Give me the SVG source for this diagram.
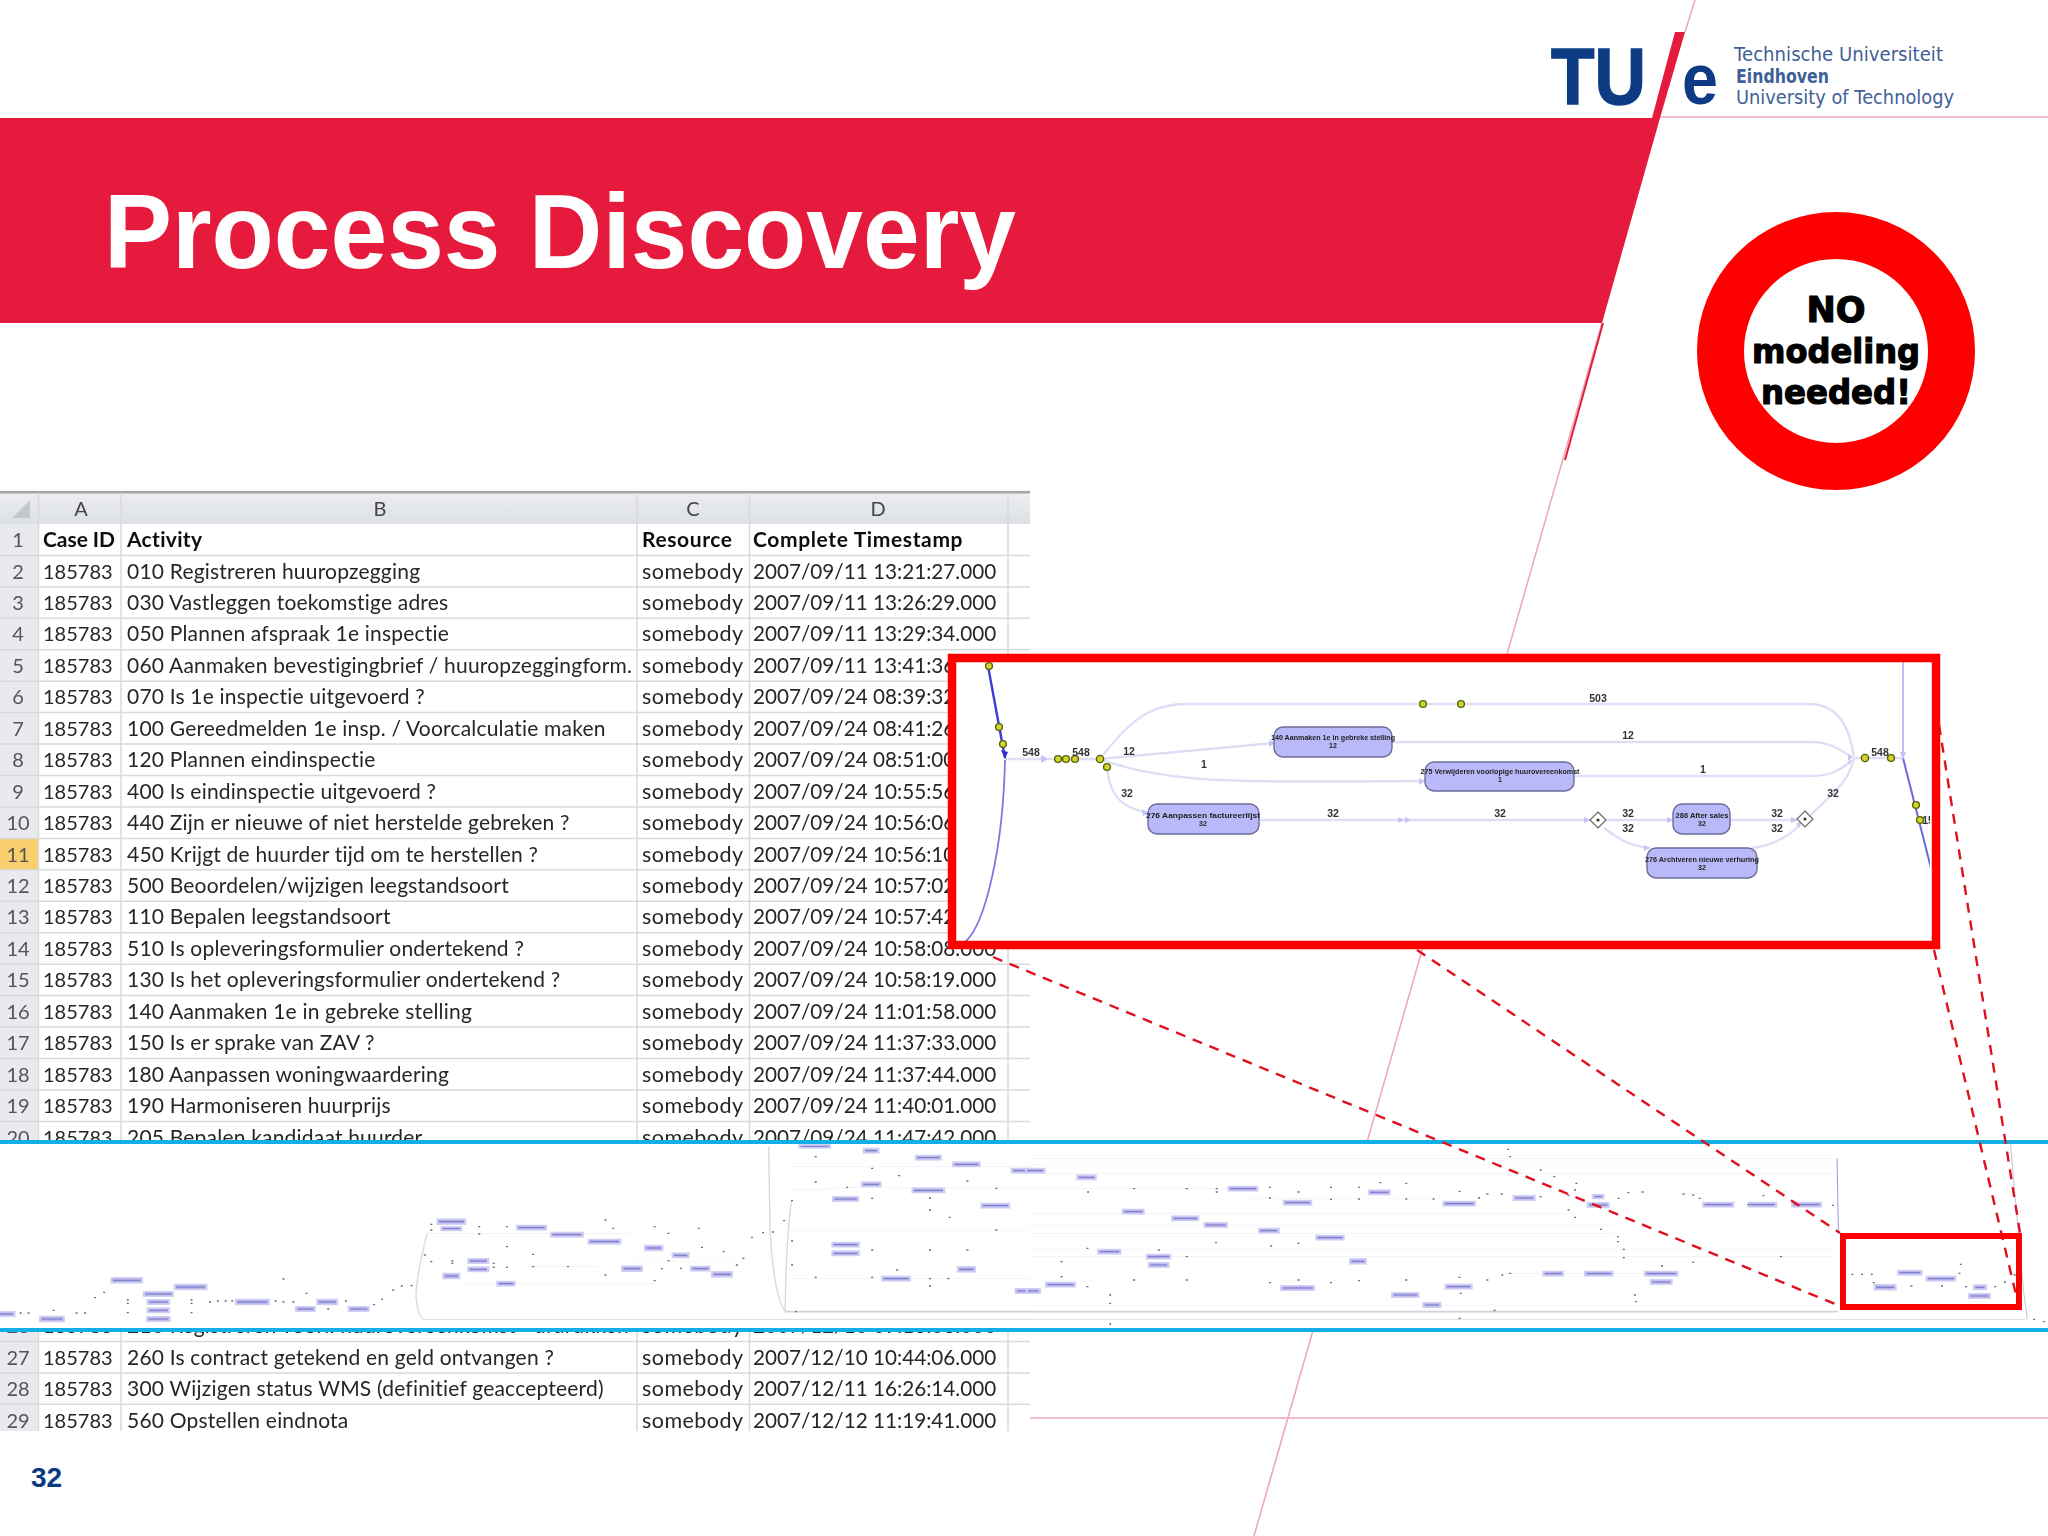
<svg xmlns="http://www.w3.org/2000/svg" width="2048" height="1536" viewBox="0 0 2048 1536">
<style>
text{font-family:"Liberation Sans",Arial,sans-serif}
.c{font-family:Lato,"Open Sans",sans-serif;font-size:20px;fill:#262626}
.ch{font-family:Lato,"Open Sans",sans-serif;font-size:21px;fill:#111;font-weight:700}
.rn{font-family:Lato,"Open Sans",sans-serif;font-size:20px;fill:#555;text-anchor:middle}
.col{font-family:Lato,"Open Sans",sans-serif;font-size:20px;fill:#444;text-anchor:middle}
text.c[x="127"]{font-size:21px;letter-spacing:.2px}
text.c[x="642"]{font-size:21.5px;letter-spacing:.45px}
text.c[x="753"]{font-size:20.7px}
text.ch[x="127"]{letter-spacing:.3px}
text.ch[x="642"]{letter-spacing:.6px}
text.ch[x="753"]{letter-spacing:.63px}
.pink{stroke:#f0a8ba;stroke-width:1.6;fill:none}
.dash{stroke:#e0101e;stroke-width:2.4;stroke-dasharray:10 8;fill:none}
.edge{stroke:#dedef7;stroke-width:2.4;fill:none}
.nd{fill:#b9b9fa;stroke:#6b6b98;stroke-width:1.4}
.nt{font-size:7px;font-weight:700;fill:#222;text-anchor:middle}
.el{font-size:10.5px;font-weight:700;fill:#333;text-anchor:middle}
.y{fill:#d4d42a;stroke:#56640f;stroke-width:1.4}
.ah{fill:#c4c4f4}
.mn{fill:url(#mini);stroke:#cfcdf3;stroke-width:3.5}
.lg{font-family:"DejaVu Sans",sans-serif;font-size:19px;fill:#3f5f96}
</style>
<defs>
<linearGradient id="mini" x1="0" y1="0" x2="0" y2="1"><stop offset="0" stop-color="#d0cef4"/><stop offset=".3" stop-color="#b3b1ea"/><stop offset=".5" stop-color="#7b78c6"/><stop offset=".7" stop-color="#b3b1ea"/><stop offset="1" stop-color="#d0cef4"/></linearGradient>
<linearGradient id="hd" x1="0" y1="0" x2="0" y2="1"><stop offset="0" stop-color="#eceef1"/><stop offset="1" stop-color="#dcdfe4"/></linearGradient>
<filter id="b1" x="-2%" y="-2%" width="104%" height="104%"><feGaussianBlur stdDeviation="0.35"/></filter>
<filter id="b2" x="-2%" y="-2%" width="104%" height="104%"><feGaussianBlur stdDeviation="0.6"/></filter>
<clipPath id="inset"><rect x="956" y="662" width="974" height="279"/></clipPath>
</defs>
<rect width="2048" height="1536" fill="#fff"/>

<g id="slide-lines">
<path class="pink" d="M2048 117H1660M1685 32L1695 0M1602 323L1254 1536M1030 1418H2048"/>
<path d="M1602 323L1564 460L1566 460L1604 323Z" fill="#e01a3c"/>
</g>
<g id="banner">
<path d="M0 118H1652L1675 32H1685L1660 118L1602 323H0Z" fill="#e61a3c"/>
<text x="104" y="268" font-size="106" font-weight="700" fill="#fff" textLength="912" lengthAdjust="spacingAndGlyphs">Process Discovery</text>
</g>
<g id="logo">
<text x="1551" y="104" font-size="80" font-weight="700" fill="#0d3c84" textLength="95" lengthAdjust="spacingAndGlyphs" stroke="#0d3c84" stroke-width="1.5">TU</text>
<text x="1682" y="104" font-size="72" font-weight="700" fill="#0d3c84" textLength="36" lengthAdjust="spacingAndGlyphs">e</text>
<text class="lg" x="1734" y="61" textLength="209" lengthAdjust="spacingAndGlyphs">Technische Universiteit</text>
<text class="lg" x="1736" y="83" font-weight="700" fill="#1f4a8a" textLength="93" lengthAdjust="spacingAndGlyphs">Eindhoven</text>
<text class="lg" x="1736" y="104" textLength="218" lengthAdjust="spacingAndGlyphs">University of Technology</text>
</g>
<g id="no-modeling">
<circle cx="1836" cy="351" r="115.5" fill="#fff" stroke="#ff0000" stroke-width="47"/>
<g text-anchor="middle" font-weight="700" fill="#000" stroke="#000" stroke-width="1.2">
<text x="1836" y="322" font-size="35" style="font-family:'DejaVu Sans',sans-serif">NO</text>
<text x="1836" y="363" font-size="34" textLength="168" lengthAdjust="spacingAndGlyphs" style="font-family:'DejaVu Sans',sans-serif">modeling</text>
<text x="1836" y="404" font-size="34" textLength="150" lengthAdjust="spacingAndGlyphs" style="font-family:'DejaVu Sans',sans-serif">needed!</text>
</g>
</g>

<g id="table" filter="url(#b1)">
<rect x="0" y="493" width="1030" height="31" fill="url(#hd)"/>
<rect x="0" y="491" width="1030" height="2.5" fill="#a4a6a8"/>
<rect x="0" y="524" width="38.5" height="910" fill="#e8eaee"/>
<rect x="0" y="838.4" width="38.5" height="31.4" fill="#f8cf6c"/>
<path d="M30 500V518H12Z" fill="#c4c7cb"/>
<path fill="none" stroke="#d9d9d9" stroke-width="1.5" d="M0 555.4H1030M0 586.9H1030M0 618.3H1030M0 649.8H1030M0 681.2H1030M0 712.6H1030M0 744.1H1030M0 775.5H1030M0 807H1030M0 838.4H1030M0 869.8H1030M0 901.3H1030M0 932.7H1030M0 964.2H1030M0 995.6H1030M0 1027H1030M0 1058.5H1030M0 1089.9H1030M0 1121.4H1030M0 1341.4H1030M0 1372.9H1030M0 1404.3H1030M38.5 493V1431M121 493V1431M637 493V1431M749.5 493V1431M1008 493V1431"/>
<text class="col" x="81" y="516">A</text><text class="col" x="380" y="516">B</text><text class="col" x="693" y="516">C</text><text class="col" x="878" y="516">D</text>
<g transform="translate(0 -.8)">
<text class="rn" x="18" y="548">1</text><text class="ch" x="43" y="548" textLength="72">Case ID</text><text class="ch" x="127" y="548">Activity</text><text class="ch" x="642" y="548">Resource</text><text class="ch" x="753" y="548">Complete Timestamp</text>
<text class="rn" x="18" y="579.4">2</text><text class="c" x="43" y="579.4">185783</text><text class="c" x="127" y="579.4">010 Registreren huuropzegging</text><text class="c" x="642" y="579.4">somebody</text><text class="c" x="753" y="579.4">2007/09/11 13:21:27.000</text>
<text class="rn" x="18" y="610.9">3</text><text class="c" x="43" y="610.9">185783</text><text class="c" x="127" y="610.9">030 Vastleggen toekomstige adres</text><text class="c" x="642" y="610.9">somebody</text><text class="c" x="753" y="610.9">2007/09/11 13:26:29.000</text>
<text class="rn" x="18" y="642.3">4</text><text class="c" x="43" y="642.3">185783</text><text class="c" x="127" y="642.3">050 Plannen afspraak 1e inspectie</text><text class="c" x="642" y="642.3">somebody</text><text class="c" x="753" y="642.3">2007/09/11 13:29:34.000</text>
<text class="rn" x="18" y="673.8">5</text><text class="c" x="43" y="673.8">185783</text><text class="c" x="127" y="673.8">060 Aanmaken bevestigingbrief / huuropzeggingform.</text><text class="c" x="642" y="673.8">somebody</text><text class="c" x="753" y="673.8">2007/09/11 13:41:36</text>
<text class="rn" x="18" y="705.2">6</text><text class="c" x="43" y="705.2">185783</text><text class="c" x="127" y="705.2">070 Is 1e inspectie uitgevoerd ?</text><text class="c" x="642" y="705.2">somebody</text><text class="c" x="753" y="705.2">2007/09/24 08:39:32</text>
<text class="rn" x="18" y="736.6">7</text><text class="c" x="43" y="736.6">185783</text><text class="c" x="127" y="736.6">100 Gereedmelden 1e insp. / Voorcalculatie maken</text><text class="c" x="642" y="736.6">somebody</text><text class="c" x="753" y="736.6">2007/09/24 08:41:26</text>
<text class="rn" x="18" y="768.1">8</text><text class="c" x="43" y="768.1">185783</text><text class="c" x="127" y="768.1">120 Plannen eindinspectie</text><text class="c" x="642" y="768.1">somebody</text><text class="c" x="753" y="768.1">2007/09/24 08:51:00</text>
<text class="rn" x="18" y="799.5">9</text><text class="c" x="43" y="799.5">185783</text><text class="c" x="127" y="799.5">400 Is eindinspectie uitgevoerd ?</text><text class="c" x="642" y="799.5">somebody</text><text class="c" x="753" y="799.5">2007/09/24 10:55:56</text>
<text class="rn" x="18" y="831">10</text><text class="c" x="43" y="831">185783</text><text class="c" x="127" y="831">440 Zijn er nieuwe of niet herstelde gebreken ?</text><text class="c" x="642" y="831">somebody</text><text class="c" x="753" y="831">2007/09/24 10:56:06</text>
<text class="rn" x="18" y="862.4">11</text><text class="c" x="43" y="862.4">185783</text><text class="c" x="127" y="862.4">450 Krijgt de huurder tijd om te herstellen ?</text><text class="c" x="642" y="862.4">somebody</text><text class="c" x="753" y="862.4">2007/09/24 10:56:10</text>
<text class="rn" x="18" y="893.8">12</text><text class="c" x="43" y="893.8">185783</text><text class="c" x="127" y="893.8">500 Beoordelen/wijzigen leegstandsoort</text><text class="c" x="642" y="893.8">somebody</text><text class="c" x="753" y="893.8">2007/09/24 10:57:02</text>
<text class="rn" x="18" y="925.3">13</text><text class="c" x="43" y="925.3">185783</text><text class="c" x="127" y="925.3">110 Bepalen leegstandsoort</text><text class="c" x="642" y="925.3">somebody</text><text class="c" x="753" y="925.3">2007/09/24 10:57:42</text>
<text class="rn" x="18" y="956.7">14</text><text class="c" x="43" y="956.7">185783</text><text class="c" x="127" y="956.7">510 Is opleveringsformulier ondertekend ?</text><text class="c" x="642" y="956.7">somebody</text><text class="c" x="753" y="956.7">2007/09/24 10:58:08.000</text>
<text class="rn" x="18" y="988.2">15</text><text class="c" x="43" y="988.2">185783</text><text class="c" x="127" y="988.2">130 Is het opleveringsformulier ondertekend ?</text><text class="c" x="642" y="988.2">somebody</text><text class="c" x="753" y="988.2">2007/09/24 10:58:19.000</text>
<text class="rn" x="18" y="1019.6">16</text><text class="c" x="43" y="1019.6">185783</text><text class="c" x="127" y="1019.6">140 Aanmaken 1e in gebreke stelling</text><text class="c" x="642" y="1019.6">somebody</text><text class="c" x="753" y="1019.6">2007/09/24 11:01:58.000</text>
<text class="rn" x="18" y="1051">17</text><text class="c" x="43" y="1051">185783</text><text class="c" x="127" y="1051">150 Is er sprake van ZAV ?</text><text class="c" x="642" y="1051">somebody</text><text class="c" x="753" y="1051">2007/09/24 11:37:33.000</text>
<text class="rn" x="18" y="1082.5">18</text><text class="c" x="43" y="1082.5">185783</text><text class="c" x="127" y="1082.5">180 Aanpassen woningwaardering</text><text class="c" x="642" y="1082.5">somebody</text><text class="c" x="753" y="1082.5">2007/09/24 11:37:44.000</text>
<text class="rn" x="18" y="1113.9">19</text><text class="c" x="43" y="1113.9">185783</text><text class="c" x="127" y="1113.9">190 Harmoniseren huurprijs</text><text class="c" x="642" y="1113.9">somebody</text><text class="c" x="753" y="1113.9">2007/09/24 11:40:01.000</text>
<text class="rn" x="18" y="1145.4">20</text><text class="c" x="43" y="1145.4">185783</text><text class="c" x="127" y="1145.4">205 Bepalen kandidaat huurder</text><text class="c" x="642" y="1145.4">somebody</text><text class="c" x="753" y="1145.4">2007/09/24 11:47:42.000</text>
<text class="rn" x="18" y="1334">26</text><text class="c" x="43" y="1334">185783</text><text class="c" x="127" y="1334">210 Registreren voorl. huurovereenkomst - afdrukken</text><text class="c" x="642" y="1334">somebody</text><text class="c" x="753" y="1334">2007/12/10 09:16:06.000</text>
<text class="rn" x="18" y="1365.8">27</text><text class="c" x="43" y="1365.8">185783</text><text class="c" x="127" y="1365.8">260 Is contract getekend en geld ontvangen ?</text><text class="c" x="642" y="1365.8">somebody</text><text class="c" x="753" y="1365.8">2007/12/10 10:44:06.000</text>
<text class="rn" x="18" y="1397.3">28</text><text class="c" x="43" y="1397.3">185783</text><text class="c" x="127" y="1397.3">300 Wijzigen status WMS (definitief geaccepteerd)</text><text class="c" x="642" y="1397.3">somebody</text><text class="c" x="753" y="1397.3">2007/12/11 16:26:14.000</text>
<text class="rn" x="18" y="1428.7">29</text><text class="c" x="43" y="1428.7">185783</text><text class="c" x="127" y="1428.7">560 Opstellen eindnota</text><text class="c" x="642" y="1428.7">somebody</text><text class="c" x="753" y="1428.7">2007/12/12 11:19:41.000</text>
</g>
</g>
<rect x="0" y="1431" width="1030" height="8" fill="#fff"/>

<g id="process-map">
<rect x="0" y="1144" width="2048" height="186" fill="#fff"/>
<g id="map-left" transform="translate(0 1130) scale(.657 .3333)" filter="url(#b1)">
<path fill="none" stroke="#d8d8e0" stroke-width="2" d="M1170 50L1172 300Q1178 500 1195 545M650 310Q636 420 633 490Q635 560 645 568H1568M1205 212Q1197 300 1195 545"/>
<path fill="none" stroke="#d2d2d6" stroke-width="5" d="M1195 545H1568"/>
<path fill="none" stroke="#f0f0f8" stroke-width="2" d="M1200 110H1568M1200 180Q1240 180 1300 172H1568M1205 445H1568M1205 300H1568M650 310H960M700 460H1000M960 393H1120M800 410H910"/>
<g class="mn-set">
<rect class="mn" x="-2" y="545" width="24" height="14"/><rect class="mn" x="61" y="559" width="36" height="16"/><rect class="mn" x="170" y="443" width="46" height="16"/><rect class="mn" x="219" y="485" width="44" height="14"/><rect class="mn" x="225" y="509" width="32" height="14"/><rect class="mn" x="225" y="534" width="32" height="14"/><rect class="mn" x="224" y="560" width="34" height="14"/><rect class="mn" x="266" y="463" width="48" height="16"/><rect class="mn" x="359" y="508" width="50" height="16"/><rect class="mn" x="451" y="530" width="28" height="14"/><rect class="mn" x="483" y="508" width="30" height="16"/><rect class="mn" x="531" y="530" width="30" height="14"/><rect class="mn" x="666" y="267" width="42" height="16"/><rect class="mn" x="672" y="290" width="30" height="12"/><rect class="mn" x="787" y="286" width="44" height="14"/><rect class="mn" x="839" y="307" width="48" height="14"/><rect class="mn" x="896" y="328" width="48" height="14"/><rect class="mn" x="982" y="346" width="26" height="16"/><rect class="mn" x="1024" y="369" width="24" height="14"/><rect class="mn" x="947" y="408" width="30" height="16"/><rect class="mn" x="1052" y="409" width="28" height="14"/><rect class="mn" x="1084" y="425" width="30" height="16"/><rect class="mn" x="713" y="386" width="30" height="14"/><rect class="mn" x="713" y="411" width="30" height="14"/><rect class="mn" x="675" y="430" width="24" height="16"/><rect class="mn" x="757" y="454" width="26" height="14"/><rect class="mn" x="1217" y="44" width="46" height="10"/><rect class="mn" x="1315" y="55" width="22" height="14"/><rect class="mn" x="1394" y="76" width="38" height="14"/><rect class="mn" x="1451" y="96" width="40" height="14"/><rect class="mn" x="1540" y="115" width="28" height="14"/><rect class="mn" x="1312" y="156" width="28" height="14"/><rect class="mn" x="1389" y="174" width="48" height="14"/><rect class="mn" x="1268" y="200" width="38" height="14"/><rect class="mn" x="1494" y="220" width="42" height="14"/><rect class="mn" x="1267" y="337" width="40" height="14"/><rect class="mn" x="1267" y="363" width="40" height="14"/><rect class="mn" x="1458" y="410" width="26" height="16"/><rect class="mn" x="1343" y="439" width="42" height="14"/><rect class="mn" x="1546" y="476" width="22" height="14"/>
</g>
<path fill="none" stroke="#66667a" stroke-width="4" d="M30 549h3M42 549h3M80 541h3M115 549h3M128 549h3M143 503h3M157 487h3M193 510h3M193 520h3M193 548h3M290 510h3M290 520h3M290 548h3M318 516h3M330 513h3M342 513h3M352 513h3M418 513h3M430 516h3M445 516h3M430 447h3M465 490h3M498 537h3M525 513h3M568 524h3M580 508h3M597 480h3M610 468h3M625 467h3M645 375h3M655 283h3M655 300h3M655 395h3M687 393h3M687 400h3M728 290h3M728 312h3M770 290h3M770 350h3M810 373h3M810 410h3M750 400h3M750 412h3M770 412h3M863 410h3M920 270h3M932 295h3M995 290h3M1016 310h3M1062 295h3M1067 352h3M1100 365h3M1130 385h3M1016 392h3M1006 416h3M920 435h3M995 452h3M1035 415h3M1120 405h3M1143 322h3M1160 308h3M1175 306h3M1192 272h3M1204 212h3M1204 333h3M1204 405h3M1240 156h3M1240 80h3M1288 172h3M1326 115h3M1326 205h3M1367 137h3M1414 204h3M1414 240h3M1444 262h3M1471 153h3M1515 175h3M1515 300h3M1414 360h3M1471 360h3M1326 360h3M1240 442h3M1326 442h3M1364 420h3M1414 446h3M1442 446h3M1414 468h3M1210 545h3"/>
</g>
<g id="map-right" transform="translate(1030 1130) scale(.6493 .3333)" filter="url(#b1)">
<path fill="none" stroke="#d2d2d6" stroke-width="5" d="M0 545H1245"/>
<path fill="none" stroke="#d8d8e0" stroke-width="2" d="M0 568H1535"/>
<path fill="none" stroke="#9a9ae0" stroke-width="1.6" d="M1243 85L1245 310"/>
<path fill="none" stroke="#c4c4e0" stroke-width="1.6" d="M1510 40L1530 480L1536 568"/>
<path fill="none" stroke="#f0f0f8" stroke-width="2" d="M0 85H1240M0 105H1240M0 130H1240M0 176H330M330 204H640M0 250H840M0 285H900M0 310H900M0 360H1240M0 380H1240M0 450H500M0 525H1240M730 430H1000M1000 190H1040"/>
<g>
<rect class="mn" x="-6" y="115" width="28" height="14"/><rect class="mn" x="73" y="135" width="28" height="14"/><rect class="mn" x="306" y="169" width="44" height="14"/><rect class="mn" x="391" y="211" width="42" height="14"/><rect class="mn" x="522" y="180" width="32" height="14"/><rect class="mn" x="143" y="238" width="32" height="14"/><rect class="mn" x="219" y="258" width="40" height="14"/><rect class="mn" x="269" y="278" width="34" height="14"/><rect class="mn" x="353" y="295" width="30" height="14"/><rect class="mn" x="441" y="316" width="42" height="14"/><rect class="mn" x="637" y="214" width="48" height="14"/><rect class="mn" x="745" y="197" width="32" height="14"/><rect class="mn" x="867" y="194" width="16" height="12"/><rect class="mn" x="859" y="218" width="32" height="14"/><rect class="mn" x="1037" y="217" width="46" height="14"/><rect class="mn" x="1107" y="217" width="42" height="14"/><rect class="mn" x="1174" y="217" width="44" height="14"/><rect class="mn" x="105" y="358" width="34" height="14"/><rect class="mn" x="180" y="373" width="36" height="14"/><rect class="mn" x="183" y="398" width="30" height="14"/><rect class="mn" x="493" y="386" width="24" height="16"/><rect class="mn" x="25" y="457" width="44" height="14"/><rect class="mn" x="-5" y="476" width="20" height="14"/><rect class="mn" x="387" y="467" width="50" height="14"/><rect class="mn" x="640" y="463" width="40" height="14"/><rect class="mn" x="558" y="488" width="40" height="14"/><rect class="mn" x="606" y="518" width="26" height="14"/><rect class="mn" x="791" y="424" width="30" height="14"/><rect class="mn" x="855" y="424" width="42" height="14"/><rect class="mn" x="947" y="424" width="50" height="14"/><rect class="mn" x="956" y="449" width="32" height="14"/><rect class="mn" x="1337" y="421" width="36" height="14"/><rect class="mn" x="1381" y="439" width="44" height="14"/><rect class="mn" x="1301" y="464" width="32" height="16"/><rect class="mn" x="1454" y="465" width="18" height="14"/><rect class="mn" x="1446" y="491" width="32" height="14"/>
</g>
<path fill="none" stroke="#66667a" stroke-width="4" d="M735 58h3M738 80h3M785 120h3M806 140h3M88 186h3M159 176h3M240 176h3M286 176h3M286 186h3M368 172h3M368 204h3M412 186h3M462 172h3M462 208h3M505 172h3M505 207h3M538 158h3M578 160h3M578 207h3M620 207h3M660 184h3M690 204h3M703 192h3M725 192h3M785 200h3M828 196h3M840 160h3M838 180h3M850 210h3M905 205h3M920 188h3M942 186h3M1005 192h3M1020 195h3M1030 205h3M1128 197h3M1105 224h3M1235 226h3M828 240h3M838 262h3M878 298h3M904 320h3M904 335h3M913 358h3M913 383h3M1155 380h3M1020 397h3M972 408h3M726 435h3M738 430h3M703 450h3M660 442h3M662 490h3M578 450h3M505 452h3M462 458h3M368 458h3M412 450h3M240 450h3M159 450h3M122 495h3M122 520h3M122 582h3M47 395h3M47 440h3M87 355h3M87 470h3M285 338h3M370 348h3M412 340h3M197 360h3M240 380h3M660 565h3M714 541h3M932 515h3M930 495h3M1265 433h3M1280 433h3M1295 433h3M1298 458h3M1356 468h3M1403 468h3M1432 403h3M1440 470h3M1485 470h3M1500 456h3M1515 435h3M1430 430h3M1545 568h3M1560 575h3"/>
</g>
<rect x="0" y="1140" width="2048" height="4" fill="#12aee6"/>
<rect x="0" y="1328" width="2048" height="4" fill="#12aee6"/>
</g>

<g id="zoom-lines">
<path class="dash" d="M993 957L1835 1304M1417 950L1840 1233M1939 725L2020 1233M1934 950L2018 1303"/>
</g>
<rect id="map-highlight" x="1843" y="1236" width="176" height="71" fill="none" stroke="#ff0000" stroke-width="6"/>

<g id="zoom-inset">
<rect x="952" y="658" width="984" height="287" fill="#fff"/>
<g clip-path="url(#inset)" filter="url(#b2)">
<g id="connectors">
<path class="edge" d="M1005 759H1100M1100 759C1130 720 1150 704 1187 704H1809C1840 704 1850 730 1854 757M1100 759L1274 743M1103 760C1170 785 1250 782 1425 781M1107 767C1110 800 1125 808 1148 813M1392 742H1812C1830 742 1840 750 1850 756M1574 776H1812C1830 776 1840 770 1850 762M1259 820H1590M1606 820H1673M1730 820H1797M1604 828C1620 840 1630 846 1650 848M1752 848C1775 845 1790 835 1800 825M1811 815C1830 795 1848 785 1854 758M1855 758H1903"/>
<path fill="none" stroke="#3d3bd6" stroke-width="2.4" d="M988 666L1005 758"/>
<path fill="none" stroke="#7a78e2" stroke-width="1.8" d="M1005 760C1003 850 985 925 965 942"/>
<path fill="none" stroke="#a6a4ee" stroke-width="1.4" d="M1903 662V758"/>
<path fill="none" stroke="#6a68dc" stroke-width="2" d="M1903 758L1932 872"/>
<path class="ah" d="M1041 755L1048 759L1041 763ZM1269 740L1275 743L1269 747ZM1419 778L1425 781L1419 785ZM1142 809L1149 813L1143 816ZM1398 817L1404 820L1398 823ZM1405 817L1411 820L1405 823ZM1584 817L1590 820L1584 823ZM1667 817L1673 820L1667 823ZM1791 817L1797 820L1791 823ZM1644 845L1650 848L1644 851ZM1796 824L1802 821L1799 828ZM1848 754L1853 757L1848 761ZM1848 762L1853 759L1849 765ZM1900 752L1906 752L1903 760Z"/>
<path fill="#3030c8" d="M1001 750L1008 752L1005 759Z"/>
</g>
<g id="n140"><rect class="nd" x="1274" y="727" width="118" height="30" rx="9"/><text class="nt" x="1333" y="739.5" textLength="124" lengthAdjust="spacingAndGlyphs">140 Aanmaken 1e in gebreke stelling</text><text class="nt" x="1333" y="748">12</text></g>
<g id="n275"><rect class="nd" x="1425" y="762" width="149" height="29" rx="9"/><text class="nt" x="1500" y="774" textLength="159" lengthAdjust="spacingAndGlyphs">275 Verwijderen voorlopige huurovereenkomst</text><text class="nt" x="1500" y="781.5">1</text></g>
<g id="n276"><rect class="nd" x="1148" y="804" width="111" height="30" rx="9"/><text class="nt" x="1203" y="817.5" textLength="114" lengthAdjust="spacingAndGlyphs">276 Aanpassen factureerlijst</text><text class="nt" x="1203" y="825.5">32</text></g>
<g id="n286"><rect class="nd" x="1673" y="804" width="57" height="30" rx="9"/><text class="nt" x="1702" y="817.5" textLength="53" lengthAdjust="spacingAndGlyphs">286 After sales</text><text class="nt" x="1702" y="825.5">32</text></g>
<g id="n278"><rect class="nd" x="1647" y="848" width="110" height="30" rx="9"/><text class="nt" x="1702" y="861.5" textLength="114" lengthAdjust="spacingAndGlyphs">276 Archiveren nieuwe verhuring</text><text class="nt" x="1702" y="869.5">32</text></g>
<g id="gates">
<path d="M1598 812L1606 820L1598 828L1590 820Z" fill="#fff" stroke="#666" stroke-width="1.2"/><circle cx="1598" cy="820" r="1.6" fill="#333"/>
<path d="M1805 811L1813 819L1805 827L1797 819Z" fill="#fff" stroke="#666" stroke-width="1.2"/><circle cx="1805" cy="819" r="1.6" fill="#333"/>
</g>
<g id="places">
<circle class="y" cx="989" cy="666" r="3.4"/><circle class="y" cx="999" cy="727" r="3.4"/><circle class="y" cx="1003" cy="744" r="3.4"/><circle class="y" cx="1058" cy="759" r="3.4"/><circle class="y" cx="1066" cy="759" r="3.4"/><circle class="y" cx="1075" cy="759" r="3.4"/><circle class="y" cx="1100" cy="759" r="3.6"/><circle class="y" cx="1107" cy="767" r="3.4"/><circle class="y" cx="1423" cy="704" r="3.4"/><circle class="y" cx="1461" cy="704" r="3.4"/><circle class="y" cx="1865" cy="758" r="3.6"/><circle class="y" cx="1891" cy="758" r="3.4"/><circle class="y" cx="1916" cy="805" r="3.4"/><circle class="y" cx="1920" cy="820" r="3.4"/>
</g>
<g id="edge-labels">
<text class="el" x="1031" y="756">548</text><text class="el" x="1081" y="756">548</text><text class="el" x="1880" y="756">548</text><text class="el" x="1129" y="755">12</text><text class="el" x="1204" y="768">1</text><text class="el" x="1127" y="797">32</text><text class="el" x="1598" y="702">503</text><text class="el" x="1628" y="739">12</text><text class="el" x="1703" y="773">1</text><text class="el" x="1833" y="797">32</text><text class="el" x="1333" y="817">32</text><text class="el" x="1500" y="817">32</text><text class="el" x="1628" y="817">32</text><text class="el" x="1628" y="832">32</text><text class="el" x="1777" y="817">32</text><text class="el" x="1777" y="832">32</text><text class="el" x="1928" y="824">15</text>
</g>
</g>
<rect x="952" y="658" width="984" height="287" fill="none" stroke="#ff0000" stroke-width="8.5"/>
</g>

<text id="page-number" x="31" y="1487" font-size="28" font-weight="700" fill="#0b3a82">32</text>
</svg>
